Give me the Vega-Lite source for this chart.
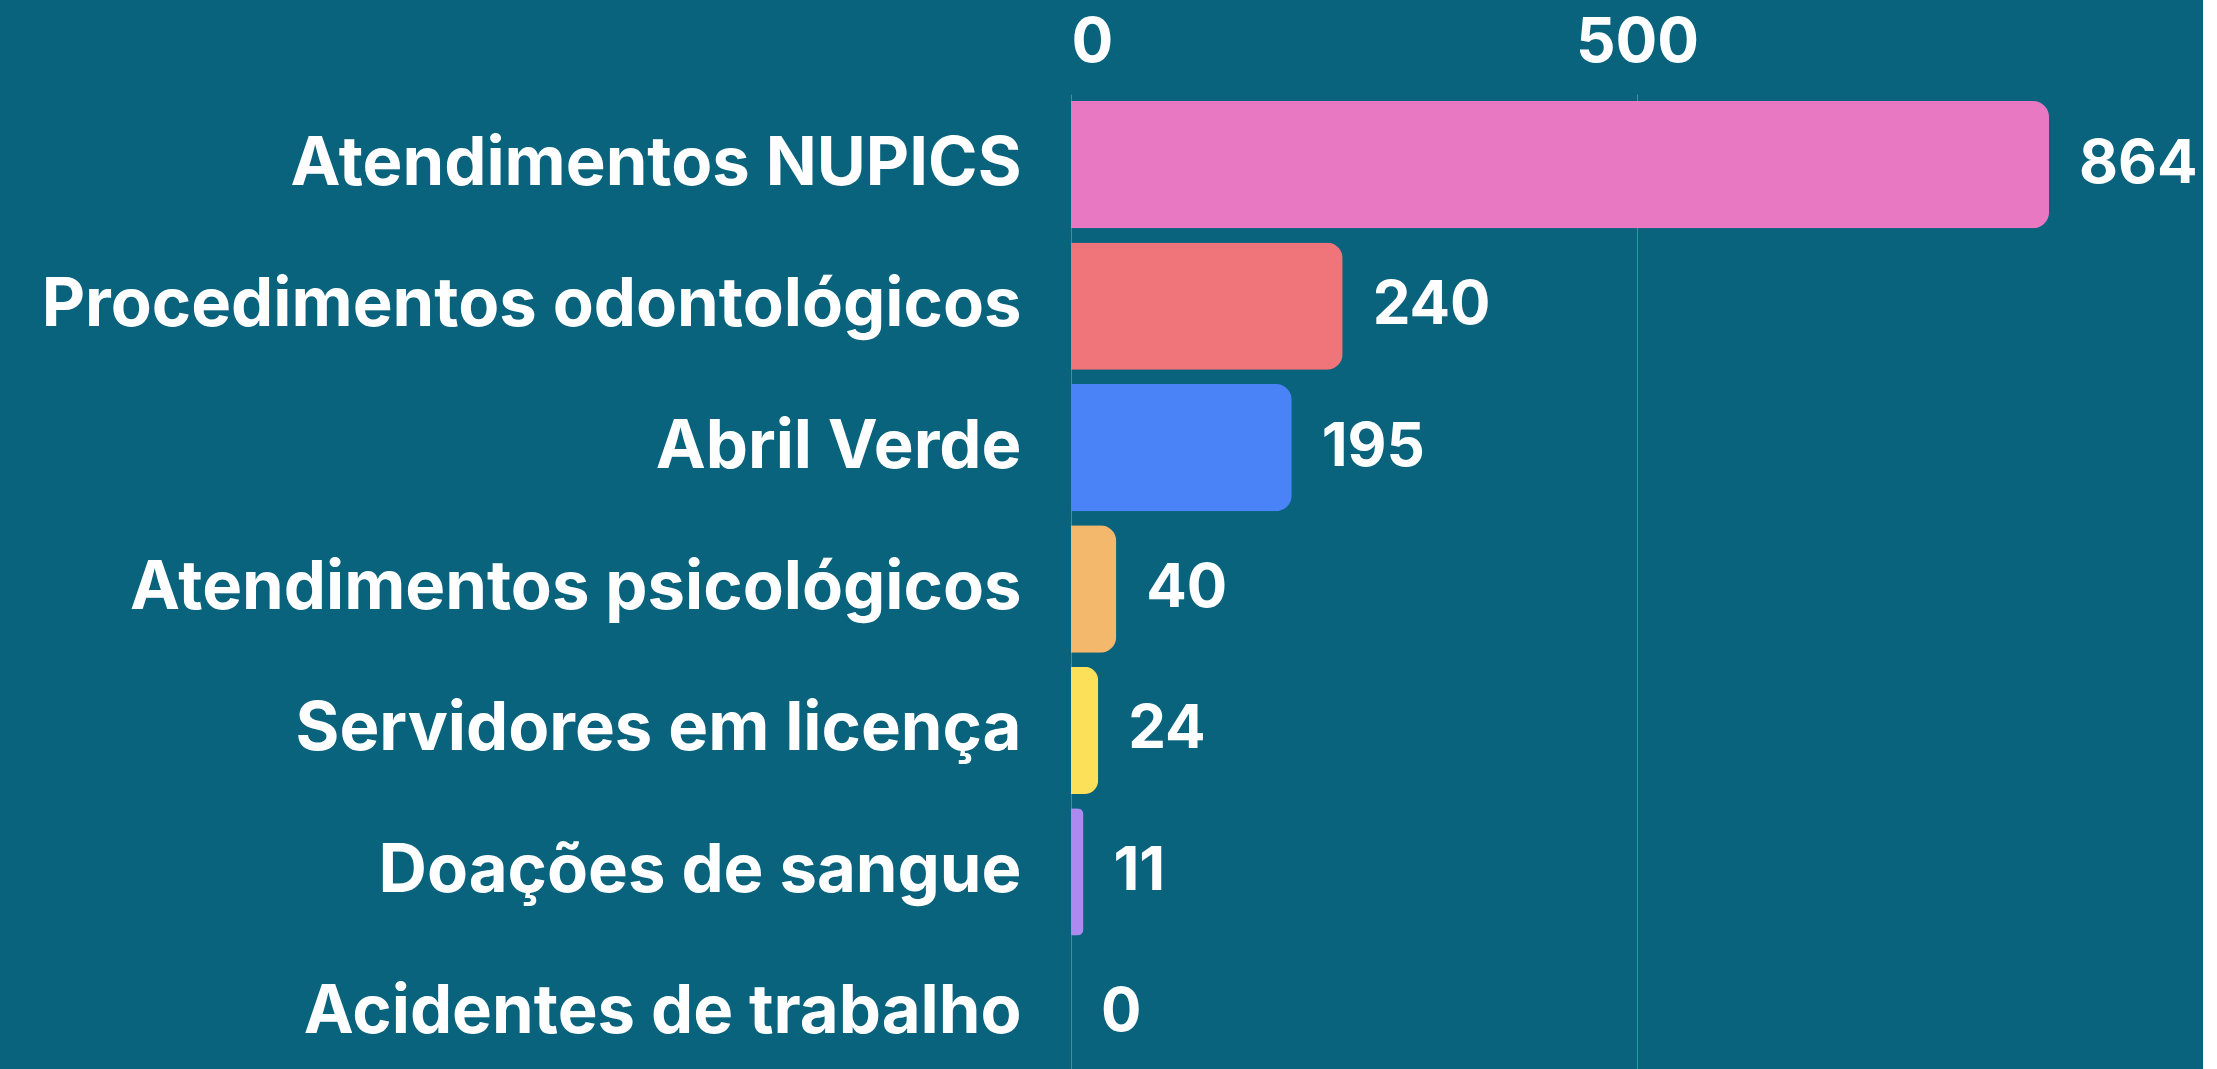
{
  "$schema": "https://vega.github.io/schema/vega-lite/v6.json",
  "autosize": "none",
  "width": 1132,
  "height": 990,
  "padding": {"left": 1071, "top": 94, "right": 0, "bottom": 0},
  "background": "#09637D",
  "config": {
    "view": {"stroke": null},
    "font": "Inter"
  },
  "data": {
    "values": [
      {"categoria": "Atendimentos NUPICS", "valor": 864},
      {"categoria": "Procedimentos odontológicos", "valor": 240},
      {"categoria": "Abril Verde", "valor": 195},
      {"categoria": "Atendimentos psicológicos", "valor": 40},
      {"categoria": "Servidores em licença", "valor": 24},
      {"categoria": "Doações de sangue", "valor": 11},
      {"categoria": "Acidentes de trabalho", "valor": 0}
    ]
  },
  "encoding": {
    "y": {
      "field": "categoria",
      "type": "nominal",
      "sort": null,
      "scale": {"paddingInner": 0.1, "paddingOuter": 0.05},
      "axis": {
        "title": null,
        "domain": false,
        "ticks": false,
        "labelFontSize": 67,
        "labelFontWeight": 700,
        "labelColor": "#ffffff",
        "labelPadding": 50,
        "labelLimit": 1100
      }
    },
    "x": {
      "field": "valor",
      "type": "quantitative",
      "scale": {"domain": [0, 1000], "nice": false},
      "axis": {
        "orient": "top",
        "title": null,
        "values": [0, 500],
        "domain": false,
        "ticks": false,
        "grid": true,
        "gridColor": "#4D8A9E",
        "gridWidth": 1,
        "labelFontSize": 62,
        "labelFontWeight": 700,
        "labelColor": "#ffffff",
        "labelPadding": 20
      }
    }
  },
  "layer": [
    {
      "mark": {"type": "bar", "cornerRadiusEnd": 16},
      "encoding": {
        "color": {
          "field": "categoria",
          "type": "nominal",
          "sort": null,
          "legend": null,
          "scale": {
            "domain": ["Atendimentos NUPICS", "Procedimentos odontológicos", "Abril Verde", "Atendimentos psicológicos", "Servidores em licença", "Doações de sangue", "Acidentes de trabalho"],
            "range": ["#E878C2", "#F0757A", "#4A82F8", "#F4B86C", "#FDE05A", "#AD8AF0", "#8FD0A0"]
          }
        }
      }
    },
    {
      "mark": {"type": "text", "align": "left", "baseline": "middle", "dx": 30, "fontSize": 60, "fontWeight": 700, "color": "#ffffff"},
      "encoding": {
        "text": {"field": "valor", "type": "quantitative"}
      }
    }
  ]
}
